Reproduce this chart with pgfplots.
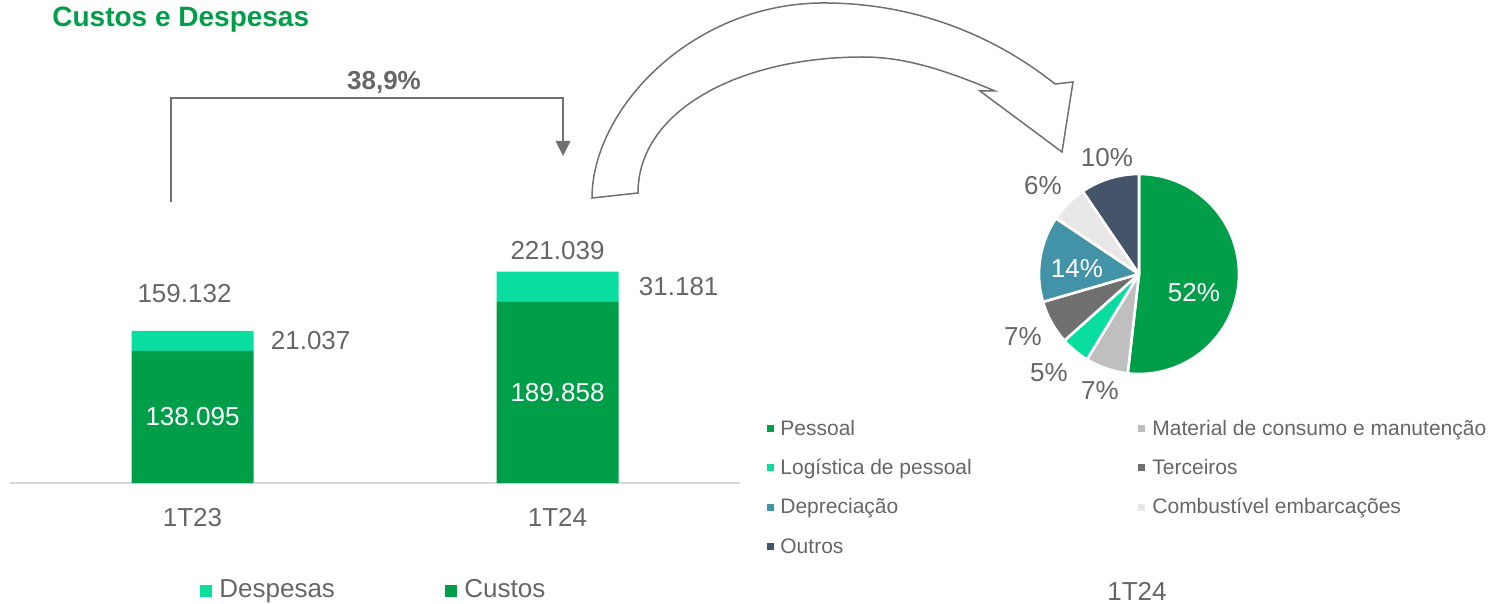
\documentclass[border=0pt]{standalone}
\usepackage{pgfplots}
\pgfplotsset{compat=1.18}
\usepackage{fontspec}
\setmainfont{Liberation Sans}
\definecolor{custos}{RGB}{0,158,73}
\definecolor{despesas}{RGB}{9,222,160}
\definecolor{material}{RGB}{191,191,191}
\definecolor{terceiros}{RGB}{112,112,112}
\definecolor{deprec}{RGB}{66,147,168}
\definecolor{combust}{RGB}{232,232,232}
\definecolor{outros}{RGB}{68,84,106}
\definecolor{txtgray}{RGB}{102,102,102}
\definecolor{linegray}{RGB}{112,112,112}
\definecolor{axisgray}{RGB}{217,217,217}
\newcommand\fa{\fontsize{13}{15.6}\selectfont}
\newcommand\fl{\fontsize{10.5}{12.6}\selectfont}
\newcommand\slice[3]{\fill[#3,draw=white,line width=1.3pt,line join=round] (axis cs:0,0) -- ++({90-3.6*#1}:50pt) arc[start angle={90-3.6*#1}, end angle={90-3.6*#2}, radius=50pt] -- cycle;}
\begin{document}
\begin{tikzpicture}
\begin{scope}[x=0.5pt,y=-0.5pt]
\path[use as bounding box] (0,0) rectangle (1494,604);
% title
\node[anchor=base west,inner sep=0,font=\fontsize{14}{16.8}\selectfont\bfseries,text=custos] at (52,27) {Custos e Despesas};
% bracket
\draw[linegray,line width=0.75pt] (171,202) -- (171,98) -- (563,98) -- (563,142);
\fill[linegray] (555.5,141) -- (570.5,141) -- (563,156) -- cycle;
\node[anchor=base,inner sep=0,font=\fa\bfseries,text=txtgray] at (384,90) {38,9\%};
% curved block arrow
\draw[linegray,line width=0.75pt,fill=white,line join=miter]
 (592,198) .. controls (592,110) and (690,5) .. (820,3)
 .. controls (920,2) and (1000,40) .. (1055,84)
 -- (1073,82) -- (1062,152) -- (980,91) -- (995,91)
 .. controls (945,70) and (905,57) .. (863,57)
 .. controls (740,57) and (638,110) .. (638,193) -- cycle;
% bar legend
\fill[despesas] (200,585) rectangle (212,597);
\node[anchor=base west,inner sep=0,font=\fa,text=txtgray] at (219,597) {Despesas};
\fill[custos] (445,585) rectangle (457,597);
\node[anchor=base west,inner sep=0,font=\fa,text=txtgray] at (464,597) {Custos};
% pie legend
\begin{scope}[every node/.style={anchor=base west,inner sep=0,font=\fl,text=txtgray}]
\fill[custos] (766.5,425) rectangle (773.5,432);
\node at (780,435) {Pessoal};
\fill[despesas] (766.5,464) rectangle (773.5,471);
\node at (780,474) {Logística de pessoal};
\fill[deprec] (766.5,503.5) rectangle (773.5,510.5);
\node at (780,513.5) {Depreciação};
\fill[outros] (766.5,543) rectangle (773.5,550);
\node at (780,553) {Outros};
\fill[material] (1137.5,425) rectangle (1144.5,432);
\node at (1152,435) {Material de consumo e manutenção};
\fill[terceiros] (1137.5,464) rectangle (1144.5,471);
\node at (1152,474) {Terceiros};
\fill[combust] (1137.5,503.5) rectangle (1144.5,510.5);
\node at (1152,513.5) {Combustível embarcações};
\end{scope}
\end{scope}
% bar chart
\begin{axis}[at={(5pt,-241.5pt)},anchor=south west,scale only axis,
  width=365pt,height=121.5pt,xmin=-0.5,xmax=1.5,ymin=0,ymax=254000,
  ybar stacked,bar width=61pt,
  axis x line*=bottom,axis y line=none,
  x axis line style={draw=axisgray,line width=1pt},
  xtick={0,1},xticklabels={1T23,1T24},major tick length=0pt,ytick=\empty,
  xticklabel style={anchor=base,yshift=-21.5pt,font=\fa,text=txtgray},
  clip=false]
\addplot[fill=custos,draw=none] coordinates {(0,138095) (1,189858)};
\addplot[fill=despesas,draw=none] coordinates {(0,21037) (1,31181)};
\coordinate (c0) at (axis cs:0,69047.5);
\coordinate (c1) at (axis cs:1,94929);
\node[anchor=west,inner sep=0,font=\fa,text=txtgray,xshift=39pt] at (axis cs:0,148613.5) {21.037};
\node[anchor=west,inner sep=0,font=\fa,text=txtgray,xshift=40.5pt] at (axis cs:1,205448.5) {31.181};
\node[anchor=base,inner sep=0,font=\fa,text=txtgray,xshift=-4pt,yshift=14pt] at (axis cs:0,159132) {159.132};
\node[anchor=base,inner sep=0,font=\fa,text=txtgray,yshift=6pt] at (axis cs:1,221039) {221.039};
\end{axis}
% pie chart
\begin{axis}[at={(569.5pt,-137pt)},anchor=center,scale only axis,
  width=100pt,height=100pt,xmin=-1,xmax=1,ymin=-1,ymax=1,hide axis,clip=false]
\slice{0}{51.8}{custos}
\slice{51.8}{58.7}{material}
\slice{58.7}{63.4}{despesas}
\slice{63.4}{70.5}{terceiros}
\slice{70.5}{84.4}{deprec}
\slice{84.4}{90.5}{combust}
\slice{90.5}{100}{outros}
\end{axis}
% labels on top of the bars and the pie
\node[anchor=center,inner sep=0,font=\fa,text=white] at (c0) {138.095};
\node[anchor=center,inner sep=0,font=\fa,text=white] at (c1) {189.858};
\begin{scope}[x=0.5pt,y=-0.5pt,every node/.style={anchor=base,inner sep=0,font=\fa,text=txtgray}]
\node at (1107,167) {10\%};
\node at (1043,195) {6\%};
\node[text=white] at (1077,278) {14\%};
\node[text=white] at (1194,302) {52\%};
\node at (1023,345) {7\%};
\node at (1049,381) {5\%};
\node at (1100,399) {7\%};
\node at (1137,600) {1T24};
\end{scope}
\end{tikzpicture}
\end{document}
